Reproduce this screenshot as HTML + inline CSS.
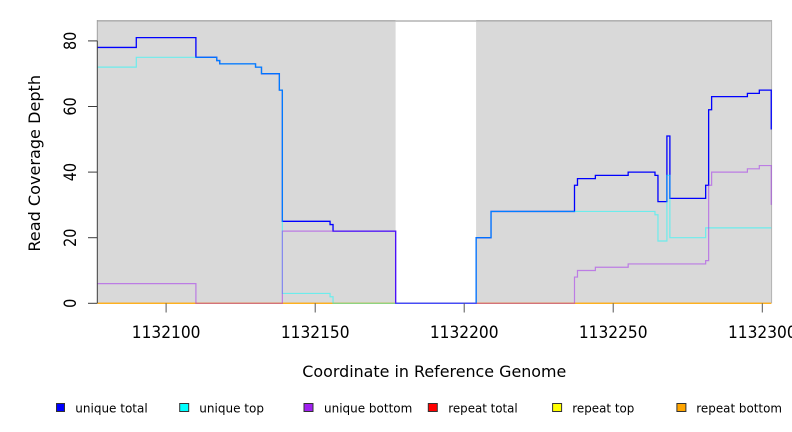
<!DOCTYPE html>
<html>
<head>
<meta charset="utf-8">
<style>
  html, body { margin: 0; padding: 0; background: #ffffff; }
  body { width: 792px; height: 432px; overflow: hidden; }
  svg { display: block; font-family: "DejaVu Sans", "Liberation Sans", sans-serif; }
</style>
</head>
<body>
<svg width="792" height="432" viewBox="0 0 792 432" xmlns="http://www.w3.org/2000/svg">
  <rect x="0" y="0" width="792" height="432" fill="#ffffff"/>

  <!-- panel backgrounds -->
  <rect x="97.3" y="20.5" width="298.3" height="282.8" fill="#d9d9d9"/>
  <rect x="476.1" y="20.5" width="295.4" height="282.8" fill="#d9d9d9"/>

  <!-- borders -->
  <line x1="97.3" y1="20.8" x2="395.6" y2="20.8" stroke="#b2b2b2" stroke-width="1.6"/>
  <line x1="476.1" y1="20.8" x2="771.8" y2="20.8" stroke="#b2b2b2" stroke-width="1.6"/>
  <line x1="395.6" y1="21" x2="476.1" y2="21" stroke="#8c8c8c" stroke-width="1"/>
  <line x1="771.6" y1="20" x2="771.6" y2="303.3" stroke="#b2b2b2" stroke-width="1"/>
  <line x1="97.3" y1="20" x2="97.3" y2="40.7" stroke="#a0a0a0" stroke-width="1"/>

  <!-- data series -->
  <g transform="matrix(2.981 0 0 -3.28 -132 303.3)" fill="none" stroke-linejoin="miter">
    <path d="M77 0 H303" stroke="#ff0000" stroke-opacity="0.5" stroke-width="1.3" vector-effect="non-scaling-stroke"/>
    <path d="M77 0 H303" stroke="#ffff00" stroke-opacity="0.5" stroke-width="1.3" vector-effect="non-scaling-stroke"/>
    <path d="M77 0 H303" stroke="#ffa500" stroke-opacity="0.5" stroke-width="1.3" vector-effect="non-scaling-stroke"/>
    <path d="M77 78 H90 V81 H110 V75 H117 V74 H118 V73 H130 V72 H132 V70 H138 V65 H139 V25 H155 V24 H156 V22 H177 V0 H204 V20 H209 V28 H237 V36 H238 V38 H244 V39 H255 V40 H264 V39 H265 V31 H268 V51 H269 V32 H281 V36 H282 V59 H283 V63 H295 V64 H299 V65 H303 V53" stroke="#0000ff" stroke-width="1.3" vector-effect="non-scaling-stroke"/>
    <path d="M77 72 H90 V75 H117 V74 H118 V73 H130 V72 H132 V70 H138 V65 H139 V3 H155 V2 H156 V0 H204 V20 H209 V28 H264 V27 H265 V19 H268 V39 H269 V20 H281 V23 H303" stroke="#00ffff" stroke-opacity="0.5" stroke-width="1.2" vector-effect="non-scaling-stroke"/>
    <path d="M77 6 H110 V0 H139 V22 H177 V0 H237 V8 H238 V10 H244 V11 H255 V12 H281 V13 H282 V36 H283 V40 H295 V41 H299 V42 H303 V30" stroke="#a020f0" stroke-opacity="0.5" stroke-width="1.2" vector-effect="non-scaling-stroke"/>
  </g>

  <!-- y axis -->
  <g stroke="#3c3c3c" stroke-width="1">
    <line x1="97.3" y1="40.7" x2="97.3" y2="303.3"/>
    <line x1="88" y1="303.3" x2="97.3" y2="303.3"/>
    <line x1="88" y1="237.7" x2="97.3" y2="237.7"/>
    <line x1="88" y1="172.1" x2="97.3" y2="172.1"/>
    <line x1="88" y1="106.5" x2="97.3" y2="106.5"/>
    <line x1="88" y1="40.9" x2="97.3" y2="40.9"/>
  </g>
  <g font-size="17" fill="#000" text-anchor="middle">
    <text transform="translate(76,303.3) rotate(-90)" textLength="9.2" lengthAdjust="spacingAndGlyphs">0</text>
    <text transform="translate(76,237.7) rotate(-90)" textLength="18.3" lengthAdjust="spacingAndGlyphs">20</text>
    <text transform="translate(76,172.1) rotate(-90)" textLength="18.3" lengthAdjust="spacingAndGlyphs">40</text>
    <text transform="translate(76,106.5) rotate(-90)" textLength="18.3" lengthAdjust="spacingAndGlyphs">60</text>
    <text transform="translate(76,40.9) rotate(-90)" textLength="18.3" lengthAdjust="spacingAndGlyphs">80</text>
  </g>

  <!-- x axis ticks -->
  <g stroke="#555555" stroke-width="1">
    <line x1="166.1" y1="303.3" x2="166.1" y2="312.5"/>
    <line x1="315.2" y1="303.3" x2="315.2" y2="312.5"/>
    <line x1="464.2" y1="303.3" x2="464.2" y2="312.5"/>
    <line x1="613.2" y1="303.3" x2="613.2" y2="312.5"/>
    <line x1="762.3" y1="303.3" x2="762.3" y2="312.5"/>
  </g>
  <g font-size="17" fill="#000" text-anchor="middle">
    <text x="166.1" y="338.2" textLength="68.7" lengthAdjust="spacingAndGlyphs">1132100</text>
    <text x="315.2" y="338.2" textLength="68.7" lengthAdjust="spacingAndGlyphs">1132150</text>
    <text x="464.2" y="338.2" textLength="68.7" lengthAdjust="spacingAndGlyphs">1132200</text>
    <text x="613.2" y="338.2" textLength="68.7" lengthAdjust="spacingAndGlyphs">1132250</text>
    <text x="762.3" y="338.2" textLength="68.7" lengthAdjust="spacingAndGlyphs">1132300</text>
  </g>

  <!-- axis titles -->
  <text x="434.3" y="377" font-size="16" text-anchor="middle" textLength="264" lengthAdjust="spacingAndGlyphs">Coordinate in Reference Genome</text>
  <text transform="translate(40,163.3) rotate(-90)" font-size="16" text-anchor="middle" textLength="176.7" lengthAdjust="spacingAndGlyphs">Read Coverage Depth</text>

  <!-- legend -->
  <g stroke="#333333" stroke-width="1">
    <rect x="56.5" y="403.5" width="8" height="8" fill="#0000ff"/>
    <rect x="179.7" y="403.5" width="9" height="8" fill="#00ffff"/>
    <rect x="304" y="403.5" width="9" height="8" fill="#a020f0"/>
    <rect x="428.3" y="403.5" width="9" height="8" fill="#ff0000"/>
    <rect x="552.6" y="403.5" width="9" height="8" fill="#ffff00"/>
    <rect x="676.9" y="403.5" width="9" height="8" fill="#ffa500"/>
  </g>
  <g font-size="12" fill="#000">
    <text x="75.3" y="412.7" textLength="72.4" lengthAdjust="spacingAndGlyphs">unique total</text>
    <text x="199.3" y="412.7" textLength="64.7" lengthAdjust="spacingAndGlyphs">unique top</text>
    <text x="324" y="412.7" textLength="88.3" lengthAdjust="spacingAndGlyphs">unique bottom</text>
    <text x="448.3" y="412.7" textLength="69.4" lengthAdjust="spacingAndGlyphs">repeat total</text>
    <text x="572.3" y="412.7" textLength="62" lengthAdjust="spacingAndGlyphs">repeat top</text>
    <text x="696.3" y="412.7" textLength="85.7" lengthAdjust="spacingAndGlyphs">repeat bottom</text>
  </g>
</svg>
</body>
</html>
